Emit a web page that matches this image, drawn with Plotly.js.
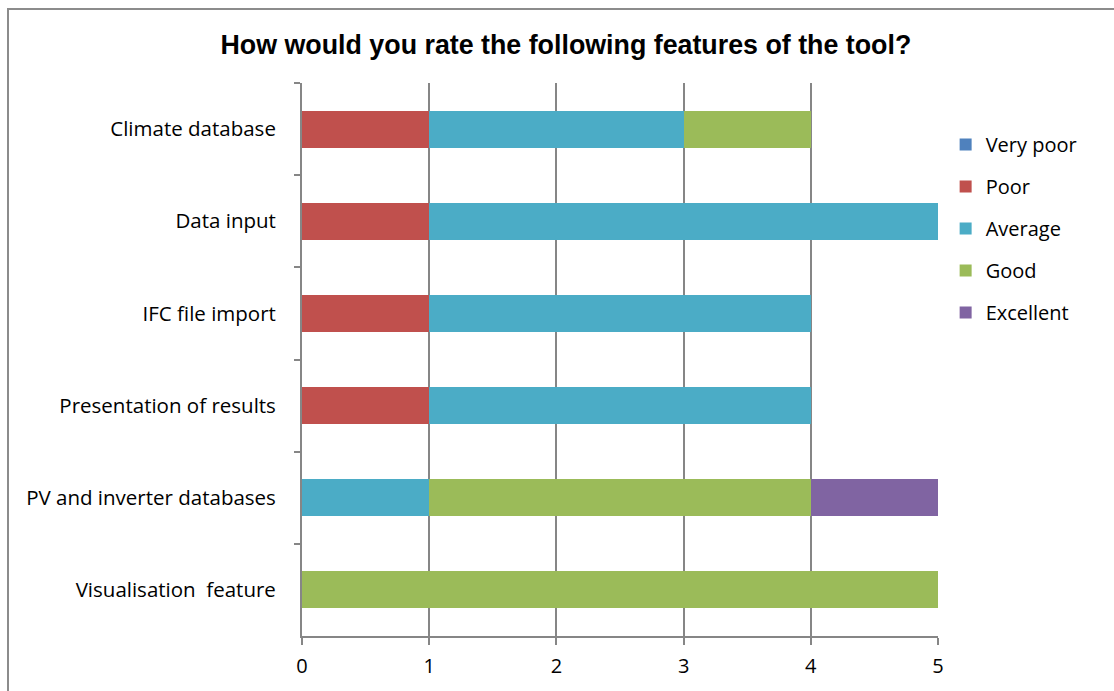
<!DOCTYPE html>
<html><head><meta charset="utf-8">
<script src="https://cdn.plot.ly/plotly-3.0.1.min.js"></script>
<style>
html,body{margin:0;padding:0;overflow:hidden;background:#fff;}
#chart{position:absolute;left:0;top:0;width:1114px;height:691px;}
#frame{position:absolute;left:7px;top:8px;width:2000px;height:2000px;border:2px solid #8c8c8c;pointer-events:none;}
</style></head>
<body>
<div id="chart"></div>
<div id="frame"></div>
<script>
const features = ["Climate database","Data input","IFC file import","Presentation of results","PV and inverter databases","Visualisation  feature"];
const ratings = ["Very poor","Poor","Average","Good","Excellent"];
const veryPoor = [0,0,0,0,0,0];
const poor = [1,1,1,1,0,0];
const average = [2,4,3,3,1,0];
const good = [1,0,0,0,3,5];
const excellent = [0,0,0,0,1,0];
const colors = ["#4F81BD","#C0504D","#4BACC6","#9BBB59","#8064A2"];
const xTicks = [0,1,2,3,4,5];

const series = [veryPoor, poor, average, good, excellent];
const traces = series.map((vals,i)=>({
  type:'bar', orientation:'h', name:ratings[i], x:vals, y:features,
  marker:{color:colors[i], line:{width:0}}, legendgroup:'g'+i, hoverinfo:'x+y+name'
}));

const layout = {
  width:1114, height:691,
  margin:{l:302, r:176, t:83, b:55},
  paper_bgcolor:'#fff', plot_bgcolor:'#fff',
  barmode:'stack', bargap:0.6,
  font:{family:'Open Sans, sans-serif', size:20, color:'#000'},
  title:{text:'<b>How would you rate the following features of the tool?</b>',
    font:{family:'Liberation Sans, Arial, sans-serif', size:26.8, color:'#000'},
    x:0.508, xref:'container', xanchor:'center', y:1-45/691, yref:'container', yanchor:'middle'},
  xaxis:{range:[0,5], tickvals:xTicks, ticktext:xTicks.map(String), showgrid:true, gridcolor:'#868686', gridwidth:2,
    zeroline:false, showline:true, linecolor:'#868686', linewidth:2, ticks:'outside', ticklen:7, tickcolor:'#868686', tickwidth:2,
    ticklabelstandoff:4, tickfont:{size:20, color:'#000'}, fixedrange:true},
  yaxis:{type:'category', categoryarray:features, autorange:'reversed', showline:true, linecolor:'#868686', linewidth:2,
    ticks:'outside', tickson:'boundaries', ticklen:6, tickcolor:'#868686', tickwidth:2, showgrid:false, zeroline:false,
    ticklabelstandoff:20, tickfont:{size:20.5, color:'#000'}, fixedrange:true},
  legend:{x:1.012, xanchor:'left', y:0.924, yanchor:'top', traceorder:'grouped', tracegroupgap:13,
    font:{size:20, color:'#000'}, bgcolor:'rgba(0,0,0,0)'},
  showlegend:true
};
Plotly.newPlot('chart', traces, layout, {displayModeBar:false, staticPlot:true});
</script>
</body></html>
